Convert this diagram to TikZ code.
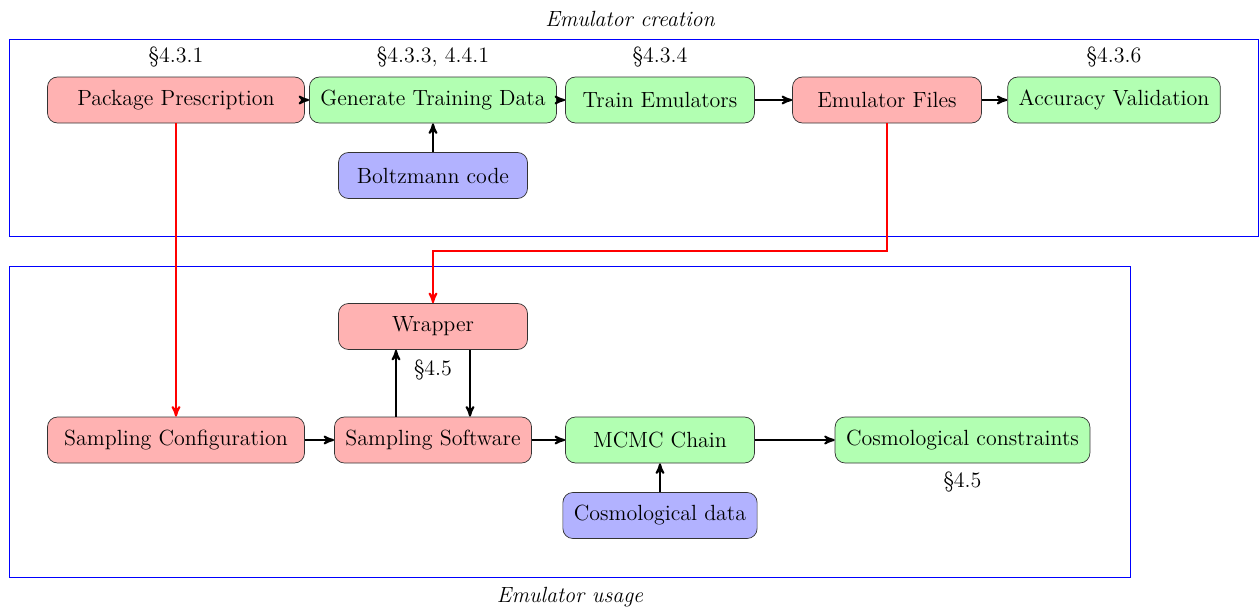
\documentclass[tikz,border=0pt]{standalone}
\usetikzlibrary{arrows}

\begin{document}
\begin{tikzpicture}
  [
    flow/.style={->, line width=1.1pt, >=stealth'},
    feed/.style={flow, red},
    stage/.style={draw=black!80, rounded corners=0.2cm, minimum height=0.92cm,
      minimum width=3.78cm, inner xsep=0.22cm, font=\fontsize{12.5}{15}\selectfont},
    pkg/.style={stage, fill=red!30},
    tool/.style={stage, fill=green!30},
    extern/.style={stage, fill=blue!30},
    wide/.style={minimum width=5.14cm},
    region/.style={draw=blue},
    note/.style={font=\fontsize{12.5}{15}\selectfont},
    caption/.style={font=\fontsize{12.5}{15}\selectfont\itshape}
  ]
  \useasboundingbox (0.0, 0.0) rectangle (25.2, 12.14);

  % emulator creation
  \draw[region] (0.18, 7.42) rectangle (25.16, 11.36);
  \node[caption] (creation) at (12.6, 11.76) {Emulator creation};

  \node[pkg, wide] (prescription) at (3.52, 10.14) {Package Prescription};
  \node[tool] (training) at (8.66, 10.14) {Generate Training Data};
  \node[tool] (train) at (13.2, 10.14) {Train Emulators};
  \node[pkg] (files) at (17.74, 10.14) {Emulator Files};
  \node[tool] (accuracy) at (22.28, 10.14) {Accuracy Validation};
  \node[extern] (boltzmann) at (8.66, 8.63) {Boltzmann code};

  \node[note] (secprescription) at (3.52, 11.0) {\S4.3.1};
  \node[note] (sectraining) at (8.66, 11.0) {\S4.3.3, 4.4.1};
  \node[note] (sectrain) at (13.2, 11.0) {\S4.3.4};
  \node[note] (secaccuracy) at (22.28, 11.0) {\S4.3.6};

  \draw[flow] (prescription) -- (training);
  \draw[flow] (training) -- (train);
  \draw[flow] (train) -- (files);
  \draw[flow] (files) -- (accuracy);
  \draw[flow] (boltzmann) -- (training);

  % emulator usage
  \draw[region] (0.18, 0.6) rectangle (22.6, 6.82);
  \node[caption] (usage) at (11.4, 0.2) {Emulator usage};

  \node[pkg, wide] (config) at (3.52, 3.34) {Sampling Configuration};
  \node[pkg] (software) at (8.66, 3.34) {Sampling Software};
  \node[pkg] (wrapper) at (8.66, 5.61) {Wrapper};
  \node[tool] (chain) at (13.2, 3.34) {MCMC Chain};
  \node[tool] (constraints) at (19.25, 3.34) {Cosmological constraints};
  \node[extern] (data) at (13.2, 1.83) {Cosmological data};

  \node[note] (secwrapper) at (8.66, 4.74) {\S4.5};
  \node[note] (secconstraints) at (19.25, 2.49) {\S4.5};

  \draw[flow] (config) -- (software);
  \draw[flow] (software) -- (chain);
  \draw[flow] (chain) -- (constraints);
  \draw[flow] (data) -- (chain);
  \draw[flow] ([xshift=-0.74cm]software.north) -- ([xshift=-0.74cm]wrapper.south);
  \draw[flow] ([xshift=0.74cm]wrapper.south) -- ([xshift=0.74cm]software.north);

  % emulators handed over
  \coordinate (turn) at (17.74, 7.12);
  \draw[feed] (prescription) -- (config);
  \draw[feed] (files.south) -- (turn) -| (wrapper.north);

\end{tikzpicture}
\end{document}
